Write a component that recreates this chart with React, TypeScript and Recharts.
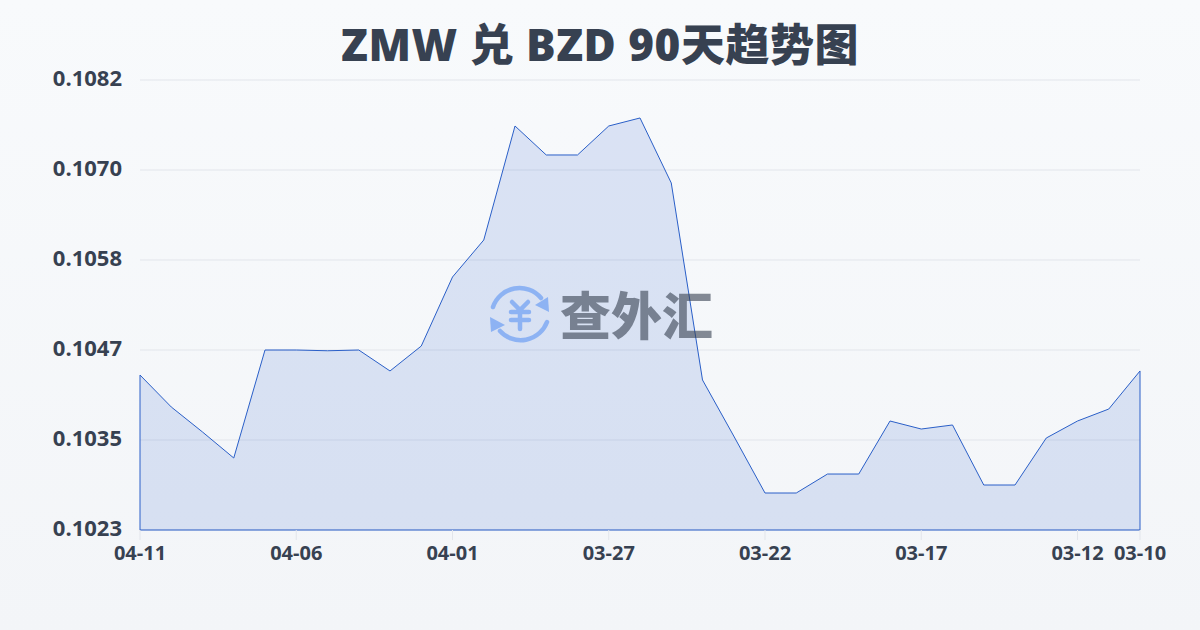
import { AreaChart, Area, XAxis, YAxis, CartesianGrid, ReferenceLine } from 'recharts';

const title = 'ZMW 兑 BZD 90天趋势图';
const brand = '查外汇';

// daily dates, newest first like the original
const dates = [
  '04-11', '04-10', '04-09', '04-08', '04-07', '04-06', '04-05', '04-04', '04-03', '04-02', '04-01',
  '03-31', '03-30', '03-29', '03-28', '03-27', '03-26', '03-25', '03-24', '03-23', '03-22',
  '03-21', '03-20', '03-19', '03-18', '03-17', '03-16', '03-15', '03-14', '03-13', '03-12', '03-11', '03-10',
];
const rates = [
  0.104332, 0.103913, 0.103585, 0.103244, 0.10466, 0.10466, 0.10465, 0.10466, 0.104385, 0.104712, 0.105617,
  0.106102, 0.107597, 0.107217, 0.107217, 0.107597, 0.107702, 0.10685, 0.104267, 0.103532, 0.102785,
  0.102785, 0.103034, 0.103034, 0.103729, 0.103624, 0.103677, 0.10289, 0.10289, 0.103506, 0.103729, 0.103886, 0.104385,
];
const xTicks = ['04-11', '04-06', '04-01', '03-27', '03-22', '03-17', '03-12', '03-10'];
const yTicks = [0.1023, 0.10348, 0.10466, 0.10584, 0.10702, 0.1082];

const data = dates.map((date, i) => ({ date, rate: rates[i] }));
const first = data[0];
const last = data[data.length - 1];
const lineColor = '#2a5fc8';

// sits on top of the chart, half see-through so the line still shows
function Watermark() {
  return (
    <div style={{ position: 'absolute', left: 488, top: 284, width: 230, height: 64, opacity: 0.6 }}>
      <svg width="64" height="64" viewBox="0 0 64 64" style={{ position: 'absolute', left: 0, top: 0 }}>
        <g fill="none" stroke="#5c94f3" strokeWidth="4.5" strokeLinecap="round">
          <path d="M5 23 A28 28 0 0 1 53 14" />
          <path d="M59 38 A28 28 0 0 1 12 47" />
          <path d="M24 18 L32 26 L40 18 M32 26 V45 M23 28 H41 M23 36 H41" />
        </g>
        <path d="M60 13 L61 28 L47 21 Z" fill="#5c94f3" />
        <path d="M2 33 L3 48 L17 41 Z" fill="#5c94f3" />
      </svg>
      <div
        style={{
          position: 'absolute',
          left: 72,
          top: -7,
          fontFamily: '"Noto Sans CJK SC"',
          fontWeight: 900,
          fontSize: 51,
          lineHeight: '72px',
          whiteSpace: 'nowrap',
          color: '#374151',
        }}
      >
        {brand}
      </div>
    </div>
  );
}

export default function App() {
  return (
    <div
      style={{
        position: 'fixed',
        left: 0,
        top: 0,
        width: 1200,
        height: 630,
        overflow: 'hidden',
        background: 'linear-gradient(180deg, #f8fafc 0%, #f3f5f8 100%)',
        fontFamily: '"Open Sans", "Noto Sans CJK SC", sans-serif',
      }}
    >
      <div
        style={{
          position: 'absolute',
          left: 0,
          top: 13,
          width: 1200,
          textAlign: 'center',
          fontSize: 44,
          fontWeight: 800,
          letterSpacing: 0.5,
          lineHeight: '62px',
          color: '#374151',
        }}
      >
        {title}
      </div>
      <div style={{ position: 'absolute', left: 0, top: 0 }}>
        <AreaChart width={1200} height={630} data={data} margin={{ top: 80, right: 60, bottom: 60, left: 60 }}>
          <CartesianGrid vertical={false} horizontal={{ shapeRendering: 'crispEdges' }} stroke="#e2e5eb" />
          <XAxis
            dataKey="date"
            ticks={xTicks}
            interval={0}
            height={40}
            axisLine={false}
            tickSize={10}
            tickMargin={6}
            tickLine={{ stroke: '#e2e5eb' }}
            tick={{ fill: '#374151', fontSize: 20, fontWeight: 700 }}
          />
          <YAxis
            width={80}
            domain={[0.1023, 0.1082]}
            ticks={yTicks}
            interval={0}
            allowDataOverflow
            axisLine={false}
            tickLine={false}
            tickMargin={12}
            tickFormatter={(v: number) => v.toFixed(4)}
            tick={{ fill: '#374151', fontSize: 22, fontWeight: 700, dy: -2 }}
          />
          <Area
            type="linear"
            dataKey="rate"
            stroke={lineColor}
            strokeWidth={1}
            fill="#2a5fd0"
            fillOpacity={0.14}
            isAnimationActive={false}
          />
          <ReferenceLine segment={[{ x: first.date, y: 0.1023 }, { x: first.date, y: first.rate }]} stroke={lineColor} />
          <ReferenceLine segment={[{ x: last.date, y: 0.1023 }, { x: last.date, y: last.rate }]} stroke={lineColor} />
          <ReferenceLine segment={[{ x: first.date, y: 0.1023 }, { x: last.date, y: 0.1023 }]} stroke={lineColor} />
        </AreaChart>
      </div>
      <Watermark />
    </div>
  );
}
